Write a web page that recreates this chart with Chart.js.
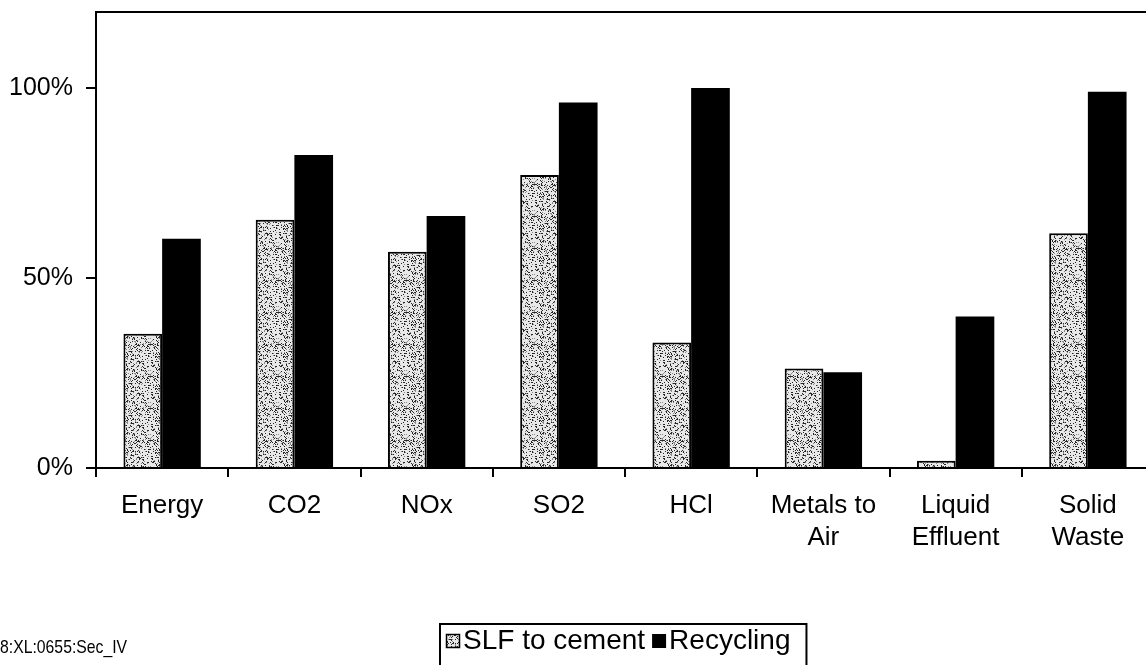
<!DOCTYPE html>
<html><head><meta charset="utf-8">
<script src="https://cdn.jsdelivr.net/npm/chart.js@4.4.0/dist/chart.umd.min.js"></script>
<style>
html,body{margin:0;padding:0;background:#fff;overflow:hidden;width:1146px;height:665px;}
#wrap{position:absolute;left:0;top:0;width:1160px;height:665px;}
#foot{position:absolute;left:0;top:636px;font:19px "Liberation Sans",Arial,sans-serif;color:#000;white-space:nowrap;transform:scaleX(0.83);transform-origin:0 0;}
</style></head><body>
<div id="wrap"><canvas id="c" width="1160" height="665"></canvas></div>
<div id="foot">8:XL:0655:Sec_IV</div>
<script>
const categories = ['Energy','CO2','NOx','SO2','HCl',['Metals to','Air'],['Liquid','Effluent'],['Solid','Waste']];
const slfToCement = [0.353,0.653,0.569,0.771,0.33,0.262,0.019,0.618];
const recycling = [0.603,0.824,0.663,0.962,1.00,0.252,0.399,0.99];
const seriesNames = ['SLF to cement','Recycling'];
const yTicks = [0,0.5,1.0];
const yMax = 1.2;

const FONT = '"Liberation Sans", Arial, sans-serif';

function stipple(){
  const c=document.createElement('canvas'); c.width=c.height=32;
  const g=c.getContext('2d'); g.fillStyle='#e8e8e8'; g.fillRect(0,0,32,32);
  let s=987654321;
  const next=()=>{ s=(Math.imul(s,1103515245)+12345)>>>0; return s>>>8; };
  for(let i=0;i<300;i++){
    const x=next()%32, y=next()%32;
    g.fillStyle=(i%3===0)?'#8a8a8a':'#262626';
    g.fillRect(x,y,1,1);
  }
  return g.createPattern(c,'repeat');
}
const slfFill = stipple();

const framePlugin = {
  id:'frame',
  afterDraw(chart){
    const {ctx, chartArea:a} = chart;
    ctx.save();
    ctx.strokeStyle='#000'; ctx.lineWidth=2;
    ctx.beginPath(); ctx.moveTo(a.left-1, a.top); ctx.lineTo(a.right, a.top); ctx.stroke();
    // legend box
    const ds = chart.data.datasets;
    ctx.font = '28px ' + FONT;
    ctx.textBaseline='middle'; ctx.textAlign='left';
    const sw = 14;
    const w1 = ctx.measureText(ds[0].label).width;
    const w2 = ctx.measureText(ds[1].label).width;
    const total = 6 + sw + 3 + w1 + 7 + sw + 3 + w2 + 16;
    const bx = Math.round((a.left + a.right)/2 - total/2) - 2;
    const by = 624;
    ctx.strokeRect(bx, by, total, 60);
    const cy = 641;
    let x = bx + 6;
    ctx.fillStyle = ds[0].backgroundColor; ctx.fillRect(x, cy-7, sw, sw);
    ctx.lineWidth=1.5; ctx.strokeRect(x+0.5, cy-6.5, sw-1, sw-1);
    x += sw + 3;
    ctx.fillStyle='#000'; ctx.fillText(ds[0].label, x, cy);
    x += w1 + 7;
    ctx.fillStyle = ds[1].backgroundColor; ctx.fillRect(x, cy-7, sw, sw);
    x += sw + 3;
    ctx.fillStyle='#000'; ctx.fillText(ds[1].label, x, cy);
    ctx.restore();
  }
};

new Chart(document.getElementById('c'), {
  type:'bar',
  data:{
    labels: categories,
    datasets:[
      {label:seriesNames[0], data:slfToCement, backgroundColor:slfFill, borderColor:'#000', borderWidth:2, borderSkipped:'bottom'},
      {label:seriesNames[1], data:recycling, backgroundColor:'#000', borderWidth:0}
    ]
  },
  options:{
    responsive:false, animation:false, devicePixelRatio:1,
    categoryPercentage:0.585, barPercentage:1,
    layout:{padding:{left:0, top:12, right:6, bottom:0}},
    plugins:{legend:{display:false}, tooltip:{enabled:false}},
    scales:{
      x:{
        offset:true,
        grid:{offset:true, drawOnChartArea:false, drawTicks:true, tickLength:9, color:'#000', lineWidth:2},
        border:{color:'#000', width:2},
        ticks:{color:'#000', font:{family:FONT, size:26, lineHeight:1.23}, padding:13, maxRotation:0, minRotation:0, autoSkip:false},
        afterFit(s){ s.height=197; s.paddingLeft=0; s.paddingRight=0; }
      },
      y:{
        min:0, max:yMax,
        afterBuildTicks(s){ s.ticks = yTicks.map(v=>({value:v})); },
        grid:{drawOnChartArea:false, tickLength:10, color:'#000', lineWidth:2},
        border:{color:'#000', width:2},
        ticks:{color:'#000', font:{family:FONT, size:25}, padding:13, callback:v=>Math.round(v*100)+'%'},
        afterFit(s){ s.width=96; s.paddingTop=0; s.paddingBottom=0; }
      }
    }
  },
  plugins:[framePlugin]
});
</script>
</body></html>
